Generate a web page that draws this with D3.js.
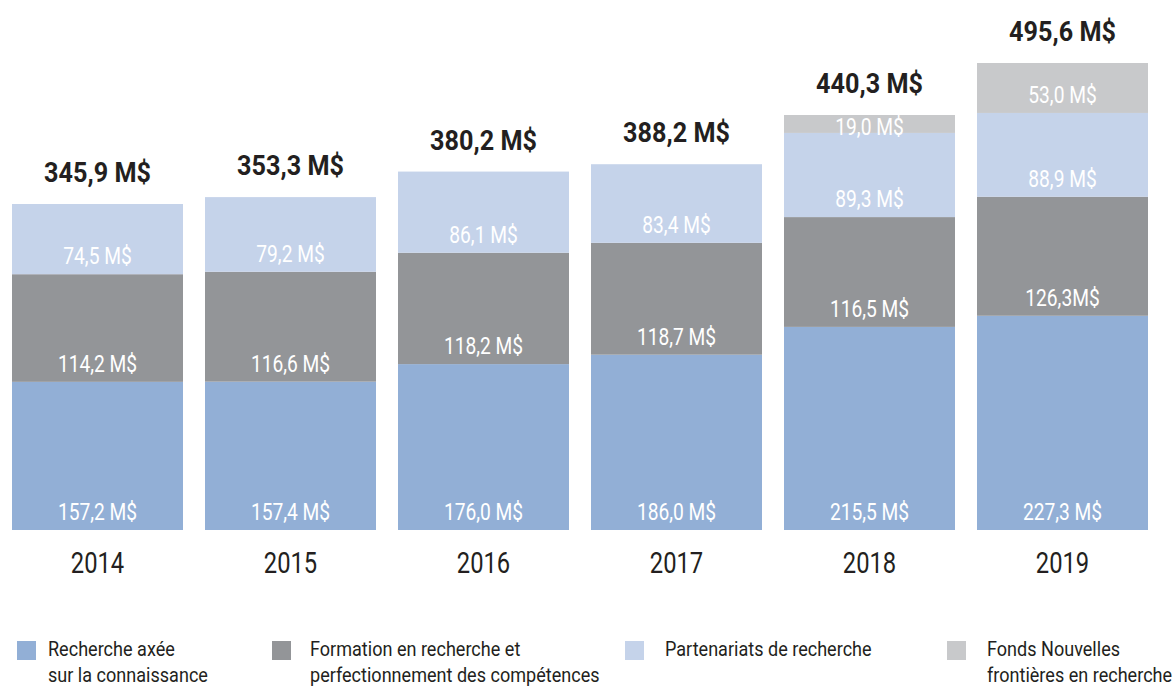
<!DOCTYPE html>
<html>
<head>
<meta charset="utf-8">
<script src="https://cdn.jsdelivr.net/npm/d3@7"></script>
<style>
  body { margin: 0; background: #fff; }
  svg { display: block; font-family: "Roboto", "Liberation Sans", sans-serif; }
</style>
</head>
<body>
<div id="chart"></div>
<script>
// Données
const years = ["2014", "2015", "2016", "2017", "2018", "2019"]
const recherche = [157.2, 157.4, 176.0, 186.0, 215.5, 227.3]
const formation = [114.2, 116.6, 118.2, 118.7, 116.5, 126.3]
const partenariats = [74.5, 79.2, 86.1, 83.4, 89.3, 88.9]
const nouvelles = [0, 0, 0, 0, 19.0, 53.0]
const totals = ["345,9 M$", "353,3 M$", "380,2 M$", "388,2 M$", "440,3 M$", "495,6 M$"]
const segLabels = [
  ["157,2 M$", "157,4 M$", "176,0 M$", "186,0 M$", "215,5 M$", "227,3 M$"],
  ["114,2 M$", "116,6 M$", "118,2 M$", "118,7 M$", "116,5 M$", "126,3M$"],
  ["74,5 M$", "79,2 M$", "86,1 M$", "83,4 M$", "89,3 M$", "88,9 M$"],
  ["", "", "", "", "19,0 M$", "53,0 M$"]
]
const legendNames = [
  ["Recherche axée", "sur la connaissance"],
  ["Formation en recherche et", "perfectionnement des compétences"],
  ["Partenariats de recherche"],
  ["Fonds Nouvelles", "frontières en recherche"]
]

const colors = ["#92afd6", "#939598", "#c5d3ea", "#c8c9cb"]
const keys = ["recherche", "formation", "partenariats", "nouvelles"]

const rows = years.map((y, i) => ({
  year: y,
  recherche: recherche[i],
  formation: formation[i],
  partenariats: partenariats[i],
  nouvelles: nouvelles[i]
}))

const width = 1175
const height = 687
// police étroite simulée (compression horizontale)
const narrow = 0.8

const svg = d3.select("#chart")
  .append("svg")
  .attr("width", width)
  .attr("height", height)

const x = d3.scaleBand().domain(years).range([12, 1148]).paddingInner(0.114).paddingOuter(0)
const y = d3.scaleLinear().domain([0, 500]).range([530, 58.75])

const place = (px, py, s) => "translate(" + px + "," + py + ") scale(" + (s || narrow) + ",1)"

const series = d3.stack().keys(keys)(rows)

// Barres empilées
series.forEach((s, k) => {
  const g = svg.append("g")
  g.selectAll("rect")
    .data(s.filter(d => d[1] - d[0] > 0))
    .enter()
    .append("rect")
    .attr("x", d => x(d.data.year))
    .attr("width", x.bandwidth())
    .attr("y", d => y(d[1]))
    .attr("height", d => y(d[0]) - y(d[1]))
    .attr("fill", colors[k])

  // Étiquettes des segments (segment mince : texte qui déborde vers le bas)
  g.selectAll("text")
    .data(s.map((d, i) => ({ d, label: segLabels[k][i] })).filter(o => o.label))
    .enter()
    .append("text")
    .attr("transform", o => {
      const h = y(o.d[0]) - y(o.d[1])
      const by = h < 30 ? y(o.d[0]) + 2 : y(o.d[0]) - 10
      return place(x(o.d.data.year) + x.bandwidth() / 2, by)
    })
    .attr("text-anchor", "middle")
    .attr("fill", "#fff")
    .attr("font-size", 24)
    .text(o => o.label)
})

// Totaux
const totalVals = rows.map(r => keys.reduce((p, k) => p + r[k], 0))
svg.append("g")
  .selectAll("text")
  .data(years)
  .enter()
  .append("text")
  .attr("transform", (d, i) => place(x(d) + x.bandwidth() / 2, y(totalVals[i]) - 22, 0.9))
  .attr("text-anchor", "middle")
  .attr("fill", "#231f20")
  .attr("font-size", 28)
  .attr("font-weight", "bold")
  .text((d, i) => totals[i])

// Axe des années
svg.append("g")
  .selectAll("text")
  .data(years)
  .enter()
  .append("text")
  .attr("transform", d => place(x(d) + x.bandwidth() / 2, 573, 0.82))
  .attr("text-anchor", "middle")
  .attr("font-size", 29)
  .attr("fill", "#231f20")
  .text(d => d)

// Légende
const legendX = [17, 272, 625, 947]
const textX = [48, 310, 665, 987]
const legend = svg.append("g")
legendNames.forEach((lines, i) => {
  legend.append("rect")
    .attr("x", legendX[i])
    .attr("y", 641)
    .attr("width", 19)
    .attr("height", 19)
    .attr("fill", colors[i])
  const t = legend.append("text")
    .attr("transform", place(textX[i], 656, 0.86))
    .attr("font-size", 21)
    .attr("fill", "#231f20")
  lines.forEach((line, j) => {
    t.append("tspan")
      .attr("x", 0)
      .attr("dy", j === 0 ? 0 : 26)
      .text(line)
  })
})
</script>
</body>
</html>
